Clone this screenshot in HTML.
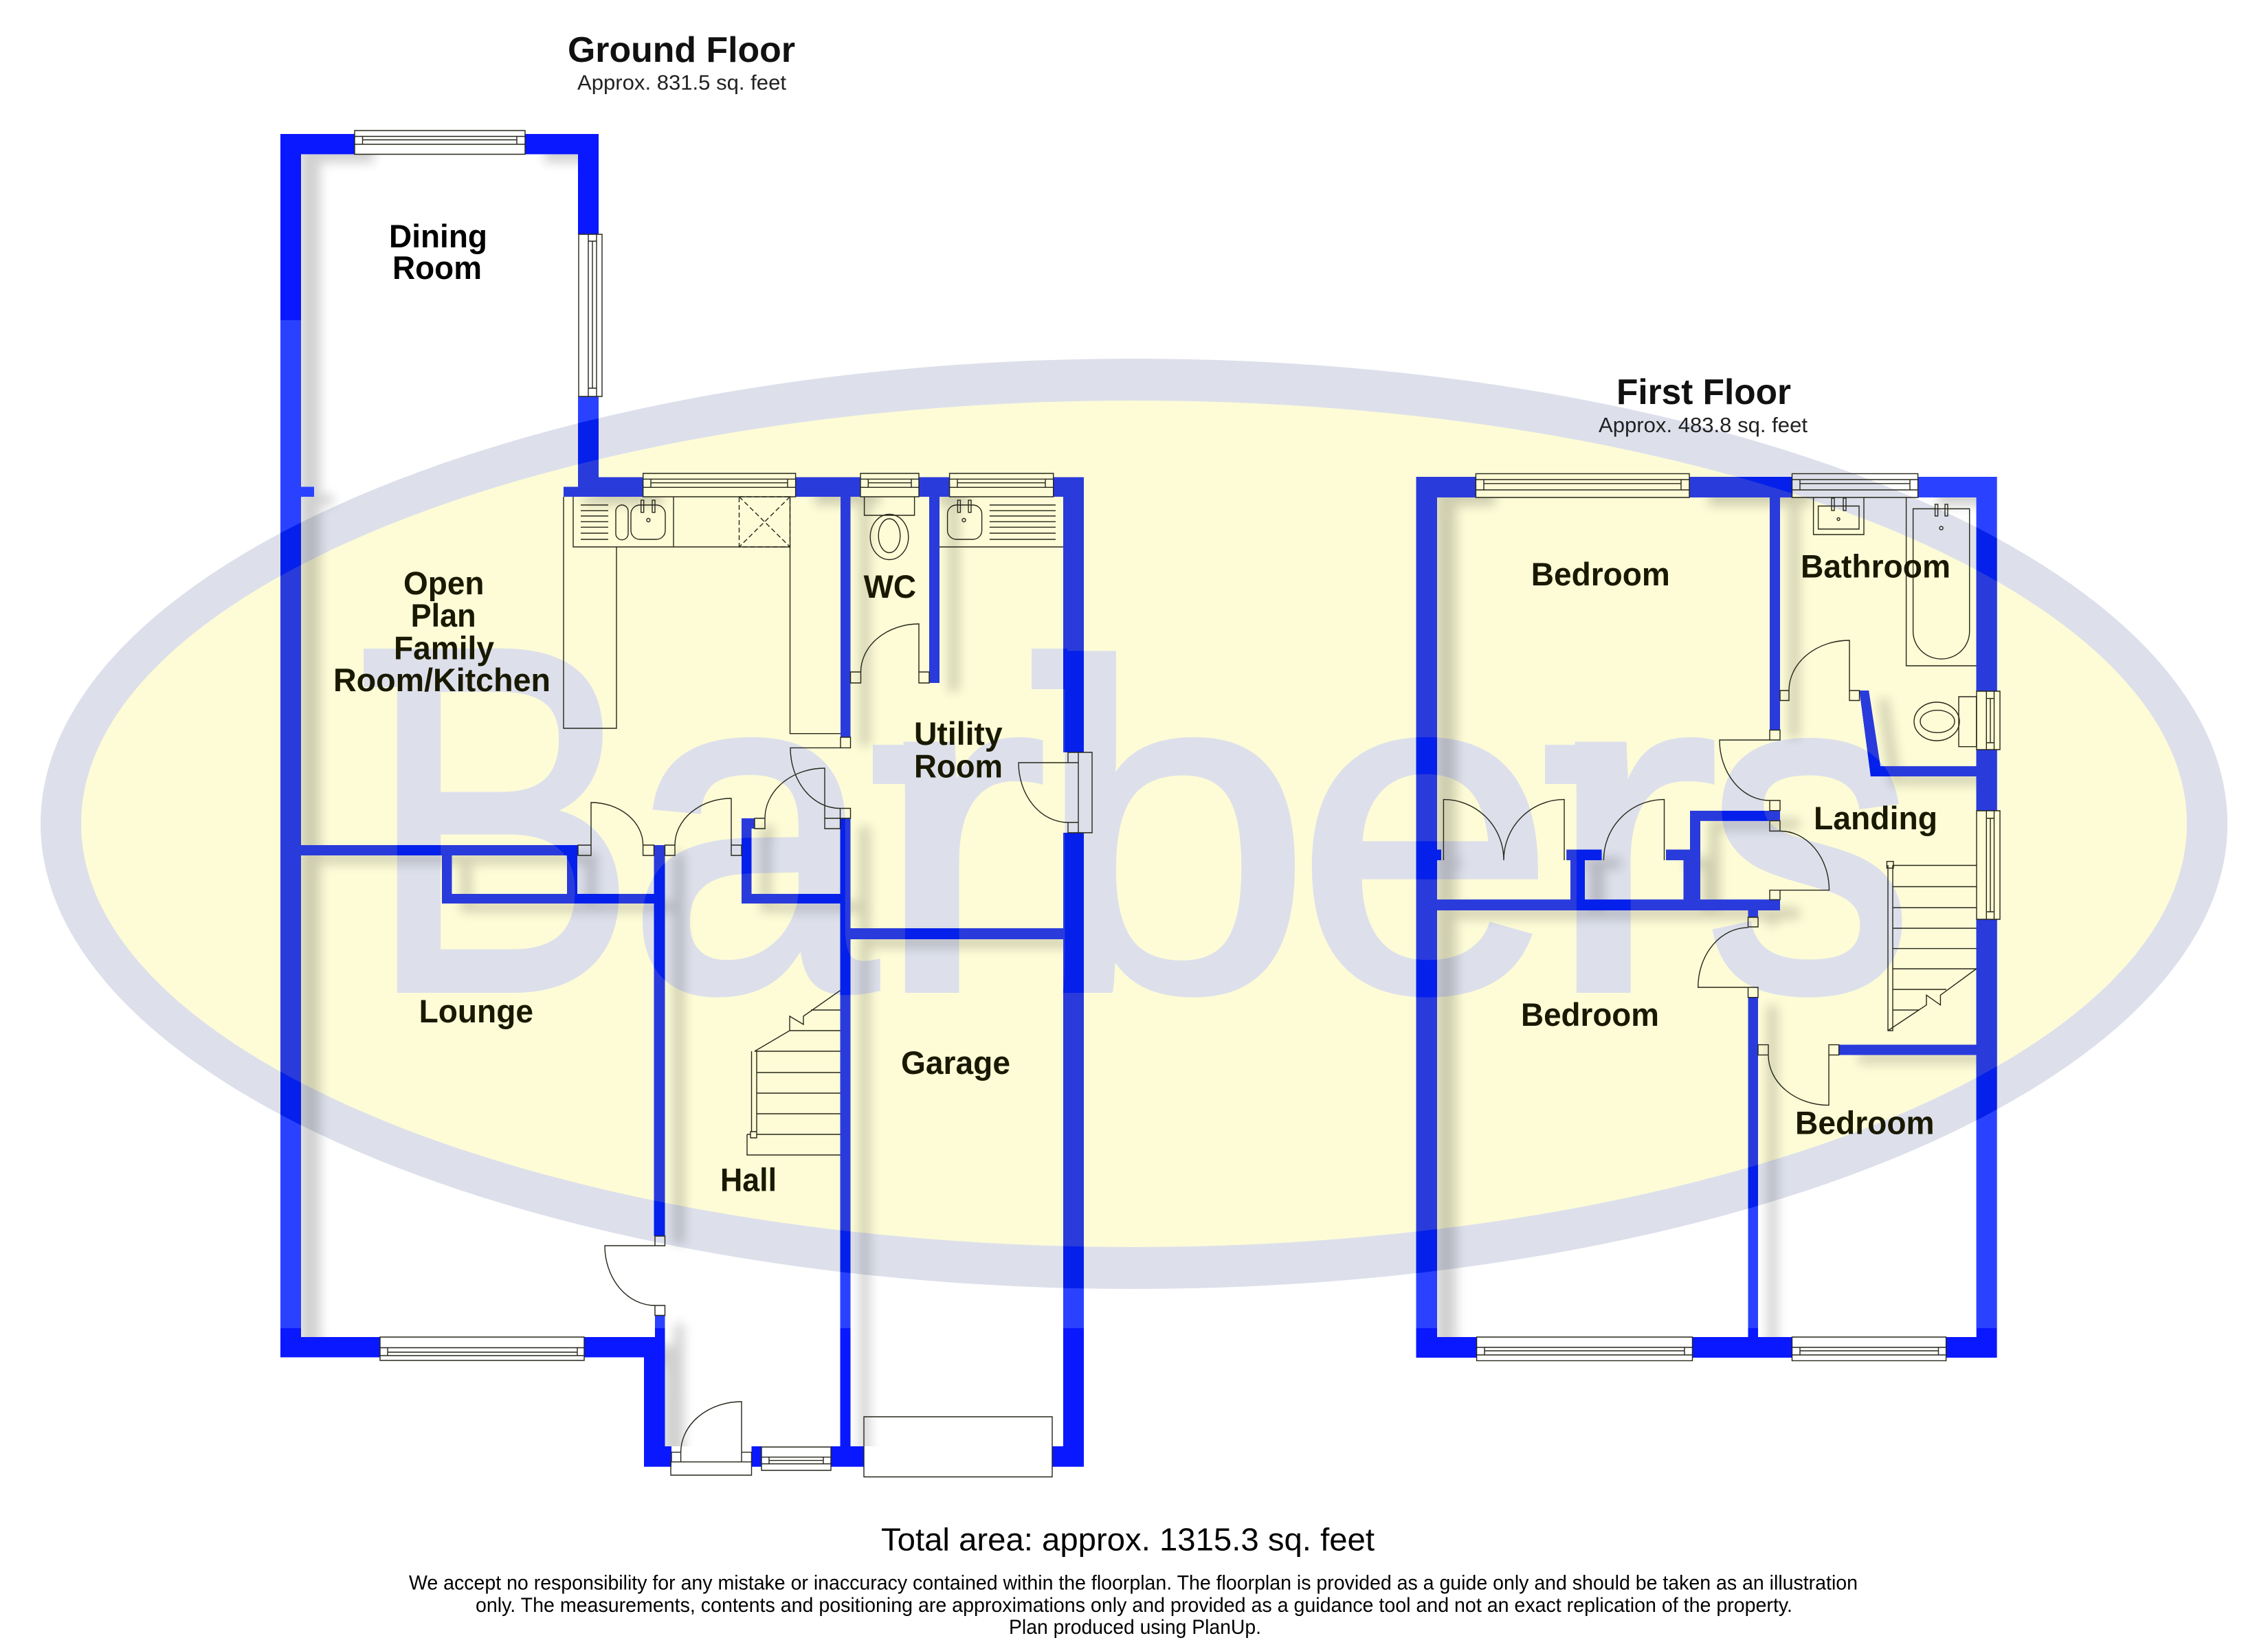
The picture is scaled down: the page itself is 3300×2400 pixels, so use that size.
<!DOCTYPE html>
<html><head><meta charset="utf-8"><style>
html,body{margin:0;padding:0;background:#fff}
svg{display:block}
text{font-family:"Liberation Sans",sans-serif}
.l{font-weight:bold;font-size:47px;fill:#191900}
.k{font-weight:bold;font-size:47px;fill:#000}
.t{font-weight:bold;font-size:52px;fill:#111}
.s{font-size:31px;fill:#222}
.f{font-size:30px;fill:#000}
.ln{fill:none;stroke:#26261a;stroke-width:1.4}
.wm{font-size:673px}
.wa{fill:#dde0eb;stroke:#dde0eb;stroke-width:10}
.wb{fill:#0420ea;stroke:#0420ea;stroke-width:10}
</style></head><body>
<svg xmlns="http://www.w3.org/2000/svg" width="3300" height="2400" viewBox="0 0 3300 2400">
<defs>
<path id="w" d="M408 195H438V1975.5H408Z M408 195H516V224.5H408Z M764 195H871V224.5H764Z M841 195H871V341H841Z M841 577H871V723H841Z M820 708.5H841V723H820Z M438 708.5H457V723H438Z M871 694.5H935.7V723H871Z M1157.6 694.5H1252V723H1157.6Z M1337 694.5H1381.6V723H1337Z M1532.7 694.5H1577V723H1532.7Z M1547 694.5H1577V1095H1547Z M1547 1212H1577V2134.7H1547Z M1223 723H1237.5V1073H1223Z M1352 723H1367V994H1352Z M1237 1351H1547V1367H1237Z M1222.5 1191H1237.5V2134.7H1222.5Z M438 1230H841V1245H438Z M951.5 1230H967.5V1799H951.5Z M643 1245H657.5V1315H643Z M825 1245H840V1301H825Z M643 1301H953V1315H643Z M1079 1191H1093.5V1315H1079Z M1079 1191H1098V1206H1079Z M1079 1301H1222.5V1315H1079Z M953 1914.5H967.5V2134.7H953Z M438 1946H553V1975.5H438Z M850 1946H967.5V1975.5H850Z M937 1975.5H967.5V2134.7H937Z M937 2105H977V2134.7H937Z M1093.5 2105H1108V2134.7H1093.5Z M1209 2105H1257V2134.7H1209Z M1531 2105H1577V2134.7H1531Z
M2060.5 694H2091V1976H2060.5Z M2060.5 694H2147.4V724H2060.5Z M2458 694H2607.5V724H2458Z M2790.6 694H2905.6V724H2790.6Z M2875.7 694H2905.6V1006H2875.7Z M2875.7 1091H2905.6V1180H2875.7Z M2875.7 1338H2905.6V1976H2875.7Z M2575 724H2590V1062.6H2575Z M2705.5 1005H2719L2736 1115.4H2875.7V1130H2722Z M2459 1180H2590V1194.6H2459Z M2459 1180H2474V1309.4H2459Z M2424 1236.5H2459V1252H2424Z M2449.6 1252H2474V1309.4H2449.6Z M2091 1309.4H2590V1325H2091Z M2285 1252H2306V1309.4H2285Z M2279.4 1236.5H2330.5V1252H2279.4Z M2091 1236.5H2097V1252H2091Z M2543.5 1325H2558V1335H2543.5Z M2543.5 1451.7H2558V1946H2543.5Z M2060.5 1946H2148.6V1976H2060.5Z M2462.5 1946H2607.5V1976H2462.5Z M2831.6 1946H2905.6V1976H2831.6Z M2675.6 1520.6H2875.7V1535.4H2675.6Z"/>
<clipPath id="wc"><use href="#w"/></clipPath>
<clipPath id="fl"><path d="M438 224.5H841V723H1547V2105H967.5V1946H438Z M2091 724H2875.7V1946H2091Z"/></clipPath>
<filter id="bl" filterUnits="userSpaceOnUse" x="0" y="0" width="3300" height="2400"><feGaussianBlur stdDeviation="8"/></filter>
</defs>

<rect width="3300" height="2400" fill="#fff"/>
<ellipse cx="1650" cy="1199" rx="1591" ry="677" fill="#dde0eb"/>
<ellipse cx="1650" cy="1199" rx="1532" ry="616" fill="#fdfcd7"/>
<g class="wm wa">
<text x="533.5" y="1440" style="font-size:714px" textLength="394" lengthAdjust="spacingAndGlyphs">B</text>
<text x="912" y="1440" textLength="364" lengthAdjust="spacingAndGlyphs">a</text>
<text x="1269.5" y="1440" textLength="255" lengthAdjust="spacingAndGlyphs">r</text>
<text x="1506" y="1440" textLength="403" lengthAdjust="spacingAndGlyphs">b</text>
<text x="1885" y="1440" textLength="378" lengthAdjust="spacingAndGlyphs">e</text>
<text x="2246.5" y="1440" textLength="255" lengthAdjust="spacingAndGlyphs">r</text>
<text x="2480" y="1440" textLength="305" lengthAdjust="spacingAndGlyphs">s</text>
</g>
<g fill="#dde0eb">
<rect x="529" y="944" width="52" height="56"/><rect x="1501" y="944" width="52" height="59"/><rect x="1270" y="1084" width="52" height="57"/><rect x="2248" y="1084" width="52" height="57"/>
</g>

<g clip-path="url(#fl)"><g opacity=".18"><use href="#w" fill="#000" transform="translate(28 12)" filter="url(#bl)"/></g></g>

<g clip-path="url(#wc)">
<rect width="3300" height="2400" fill="#0a18ff"/>
<rect y="466" width="3300" height="1467" fill="#2a42ff"/>
<ellipse cx="1650" cy="1199" rx="1591" ry="677" fill="#0420ea"/>
<ellipse cx="1650" cy="1199" rx="1532" ry="616" fill="#2a3bdb"/>
<g class="wm wb">
<text x="533.5" y="1440" style="font-size:714px" textLength="394" lengthAdjust="spacingAndGlyphs">B</text>
<text x="912" y="1440" textLength="364" lengthAdjust="spacingAndGlyphs">a</text>
<text x="1269.5" y="1440" textLength="255" lengthAdjust="spacingAndGlyphs">r</text>
<text x="1506" y="1440" textLength="403" lengthAdjust="spacingAndGlyphs">b</text>
<text x="1885" y="1440" textLength="378" lengthAdjust="spacingAndGlyphs">e</text>
<text x="2246.5" y="1440" textLength="255" lengthAdjust="spacingAndGlyphs">r</text>
<text x="2480" y="1440" textLength="305" lengthAdjust="spacingAndGlyphs">s</text>
</g>
<g fill="#0420ea">
<rect x="529" y="944" width="52" height="56"/><rect x="1501" y="944" width="52" height="59"/><rect x="1270" y="1084" width="52" height="57"/><rect x="2248" y="1084" width="52" height="57"/>
</g>
</g>

<path class="ln" d="
M516 190H764V224.5H516Z M516 198.5H764 M516 210H764 M527.5 198.5V210 M752 198.5V210 M527.5 203.5H752
M842 341H876V577H842Z M868 341V577 M856 341V577 M856 351H868 M856 565H868 M862 351V565
M935.7 689H1157.6V723H935.7Z M935.7 697.3H1157.6 M935.7 709.3H1157.6 M947 697.3V709.3 M1146 697.3V709.3 M947 702.7H1146
M1252 689H1337V723H1252Z M1252 697.3H1337 M1252 709.3H1337 M1263.3 697.3V709.3 M1326 697.3V709.3 M1263.3 702.7H1326
M1381.6 689H1532.7V723H1381.6Z M1381.6 697.3H1532.7 M1381.6 709.3H1532.7 M1393 697.3V709.3 M1521 697.3V709.3 M1393 702.7H1521
M553 1946H850V1980H553Z M553 1961.5H850 M553 1973H850 M564 1961.5V1973 M840 1961.5V1973 M564 1968H840
M1108 2106H1209V2140H1108Z M1108 2120.7H1209 M1108 2130.5H1209 M1119 2120.7V2130.5 M1198 2120.7V2130.5 M1119 2125.6H1198
M1569 1095H1589V1212H1569Z
M2147.4 689.4H2458V724H2147.4Z M2147.4 698H2458 M2147.4 713H2458 M2159 698V713 M2446 698V713 M2159 703.8H2446
M2607.5 689.4H2790.6V724H2607.5Z M2607.5 698H2790.6 M2607.5 713H2790.6 M2619 698V713 M2779 698V713 M2619 703.8H2779
M2876 1006H2910V1091H2876Z M2890.3 1006V1091 M2901.5 1006V1091 M2890.3 1016.6H2901.5 M2890.3 1081H2901.5 M2896 1016.6V1081
M2876 1180H2910V1338H2876Z M2890.3 1180V1338 M2901.5 1180V1338 M2890.3 1191H2901.5 M2890.3 1327H2901.5 M2896 1191V1327
M2148.6 1946H2462.5V1980.4H2148.6Z M2148.6 1961H2462.5 M2148.6 1972H2462.5 M2160 1961V1972 M2451 1961V1972 M2160 1966H2451
M2607.5 1946H2831.6V1980.4H2607.5Z M2607.5 1961H2831.6 M2607.5 1972H2831.6 M2619 1961V1972 M2820.5 1961V1972 M2619 1966H2820.5

M1237.5 978H1252.5V994H1237.5Z M1337 978H1352V994H1337Z M1337 978V908A85 70 0 0 0 1252.5 978
M1223 1073H1237.5V1088.4H1223Z M1222.5 1176.5H1237.5V1191H1222.5Z M1237 1088.4H1150A72 88 0 0 0 1222 1176.5
M841 1230H860V1245H841Z M935.6 1230H951.5V1245H935.6Z M860 1230V1168A75.6 62 0 0 1 935.6 1230
M967.5 1230H982V1245H967.5Z M1064 1230H1079V1245H1064Z M1064 1245V1162A82 68 0 0 0 982 1230
M1098 1191H1113V1206H1098Z M1200 1191H1222.5V1206H1200Z M1200 1191V1118A87 73 0 0 0 1113 1191
M953 1799H967.5V1813H953Z M953 1900H967.5V1914.5H953Z M953 1813H880A73 87 0 0 0 953 1900
M977 2113.6H990.6V2127.7H977Z M1079 2113.6H1093.5V2127.7H1079Z M1079 2113.6V2040A88.4 73.6 0 0 0 990.6 2113.6
M976 2127.7H1093.5V2147H976Z
M1554 1095H1569V1110H1554Z M1554 1197H1569V1212H1554Z M1554 1110H1482A72 87 0 0 0 1554 1197
M1257 2062H1531V2149.5H1257Z

M820 723V1060H897V796 M834 723V796H1149.5V1067.7H1223 M980 723V796 M1149.5 723V796
M845 735H885 M845 743.3H885 M845 751H885 M845 759.3H885 M845 767.3H885 M845 776H885 M845 785H885
M1439.8 735H1536 M1439.8 743.3H1536 M1439.8 751H1536 M1439.8 759.3H1536 M1439.8 767.3H1536 M1439.8 776H1536 M1439.8 785H1536
M1367 796H1547
M1257.6 723V750H1330.6V723

M1093.5 1530V1647 M1101 1530V1647 M1092 1647H1101V1656H1092Z M1098 1530H1222.5 M1101 1561H1222.5 M1101 1591H1222.5 M1101 1621H1222.5 M1101 1651H1222.5 M1087 1651V1681H1222.5 M1087 1651H1092
M1098 1530L1149 1500V1479L1169 1491V1479L1222.5 1441.6 M1149 1500H1222.5 M1180 1470H1222.5

M2590 1005H2603V1019.5H2590Z M2691 1005H2705.5V1019.5H2691Z M2691 1005V932A88 73 0 0 0 2603 1005
M2575 1062.6H2590V1077H2575Z M2575 1165H2590V1179.7H2575Z M2590 1077H2502A73 88 0 0 0 2575 1165
M2575 1194.6H2590V1209.5H2575Z M2575 1295.6H2590V1309.4H2575Z M2590 1209.5A71.5 86 0 0 1 2661.5 1295.6H2590
M2100.4 1252V1163.6A87.6 88 0 0 1 2188 1252 M2276 1252V1163.6A88 88 0 0 0 2188 1252
M2421.5 1252V1163.6A88 88 0 0 0 2333.4 1252
M2543.5 1335H2558V1349H2543.5Z M2543.5 1437H2558V1451.7H2543.5Z M2543.5 1350A73 87 0 0 0 2470.7 1437H2558
M2558 1520.6H2573V1535.4H2558Z M2661 1520.6H2675.6V1535.4H2661Z M2573 1535.4A88 73 0 0 0 2661 1608.6V1535.4
M2638.6 724V778H2712V724 M2645.6 736.5H2705V770H2645.6Z
M2773.6 724V969H2875.7
M2850 1014H2875.7V1086.7H2850Z
M2747 1259V1500H2754V1259 M2745.4 1253.7H2755V1263.5H2745.4Z
M2754 1259.5H2875.7 M2754 1290.5H2875.7 M2754 1321H2875.7 M2754 1351H2875.7 M2754 1380.6H2875.7 M2754 1410H2875.7 M2754 1440H2832 M2754 1470H2793
M2875.7 1410L2823.4 1448.3V1462.7L2803 1448.3V1462.7L2747 1500
M2783.6 740.5H2865.7V919A41 40 0 0 1 2783.6 919Z
"/>
<path class="ln" stroke-dasharray="7 4" d="M1075.5 723H1149.5V796H1075.5Z M1075.5 723L1149.5 796 M1149.5 723L1075.5 796"/>

<g class="ln">
<rect x="896" y="735" width="18" height="50.7" rx="9"/>
<rect x="918" y="735" width="50" height="50" rx="13"/>
<rect x="932.7" y="728" width="4" height="17.7"/><rect x="949" y="728" width="4" height="17.7"/>
<circle cx="943.4" cy="757" r="2.5"/>
<rect x="1378.6" y="735" width="50" height="50" rx="13"/>
<rect x="1393.4" y="728" width="4" height="17.7"/><rect x="1409" y="728" width="4" height="17.7"/>
<circle cx="1402.5" cy="757" r="2.5"/>
<ellipse cx="1294" cy="781.5" rx="27.8" ry="33"/>
<ellipse cx="1294" cy="779.7" rx="15.8" ry="24.7"/>
<rect x="2665" y="725" width="4" height="18"/><rect x="2682" y="725" width="4" height="18"/>
<circle cx="2675" cy="755.5" r="2"/>
<rect x="2815.6" y="734" width="4" height="17"/><rect x="2830" y="734" width="4" height="17"/>
<circle cx="2824.6" cy="768.6" r="2.5"/>
<ellipse cx="2818" cy="1050" rx="33" ry="28"/>
<ellipse cx="2819" cy="1050" rx="25" ry="16.3"/>
</g>

<text class="t" x="826" y="90" textLength="331" lengthAdjust="spacingAndGlyphs">Ground Floor</text>
<text class="s" x="840" y="130.5" textLength="304" lengthAdjust="spacingAndGlyphs">Approx. 831.5 sq. feet</text>
<text class="k" x="566" y="360" textLength="143" lengthAdjust="spacingAndGlyphs">Dining</text>
<text class="k" x="571" y="406" textLength="130" lengthAdjust="spacingAndGlyphs">Room</text>
<text class="l" x="587" y="865" textLength="117.5" lengthAdjust="spacingAndGlyphs">Open</text>
<text class="l" x="597.6" y="912" textLength="95" lengthAdjust="spacingAndGlyphs">Plan</text>
<text class="l" x="573" y="959.5" textLength="146" lengthAdjust="spacingAndGlyphs">Family</text>
<text class="l" x="485" y="1006" textLength="316" lengthAdjust="spacingAndGlyphs">Room/Kitchen</text>
<text class="l" x="1256.6" y="870" textLength="76.5" lengthAdjust="spacingAndGlyphs">WC</text>
<text class="l" x="1330" y="1084" textLength="128.6" lengthAdjust="spacingAndGlyphs">Utility</text>
<text class="l" x="1330" y="1131.3" textLength="129" lengthAdjust="spacingAndGlyphs">Room</text>
<text class="l" x="609.6" y="1488" textLength="166.4" lengthAdjust="spacingAndGlyphs">Lounge</text>
<text class="l" x="1048" y="1733.5" textLength="82" lengthAdjust="spacingAndGlyphs">Hall</text>
<text class="l" x="1311" y="1563" textLength="159" lengthAdjust="spacingAndGlyphs">Garage</text>

<text class="t" x="2352" y="588" textLength="254" lengthAdjust="spacingAndGlyphs">First Floor</text>
<text class="s" x="2326" y="629" textLength="304" lengthAdjust="spacingAndGlyphs">Approx. 483.8 sq. feet</text>
<text class="l" x="2227.8" y="852" textLength="202" lengthAdjust="spacingAndGlyphs">Bedroom</text>
<text class="l" x="2620" y="840.4" textLength="218" lengthAdjust="spacingAndGlyphs">Bathroom</text>
<text class="l" x="2639" y="1207" textLength="180" lengthAdjust="spacingAndGlyphs">Landing</text>
<text class="l" x="2213" y="1492.8" textLength="201" lengthAdjust="spacingAndGlyphs">Bedroom</text>
<text class="l" x="2612" y="1650.7" textLength="202.6" lengthAdjust="spacingAndGlyphs">Bedroom</text>

<text x="1282" y="2256.7" font-size="46" fill="#000" textLength="718" lengthAdjust="spacingAndGlyphs">Total area: approx. 1315.3 sq. feet</text>
<text class="f" x="595" y="2313.5" textLength="2108" lengthAdjust="spacingAndGlyphs">We accept no responsibility for any mistake or inaccuracy contained within the floorplan. The floorplan is provided as a guide only and should be taken as an illustration</text>
<text class="f" x="692" y="2346" textLength="1916" lengthAdjust="spacingAndGlyphs">only. The measurements, contents and positioning are approximations only and provided as a guidance tool and not an exact replication of the property.</text>
<text class="f" x="1468" y="2378" textLength="367" lengthAdjust="spacingAndGlyphs">Plan produced using PlanUp.</text>
</svg>
</body></html>
